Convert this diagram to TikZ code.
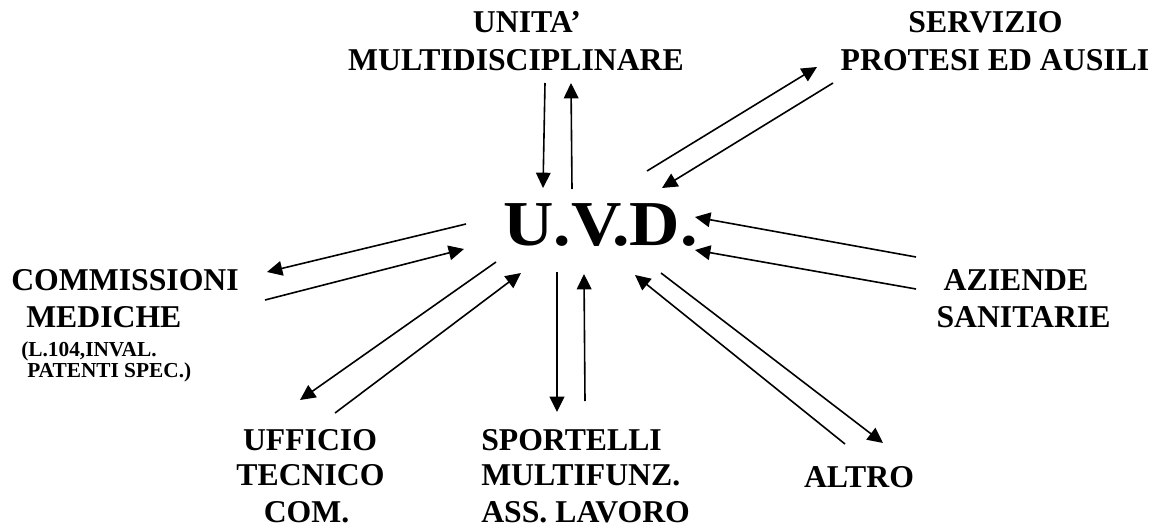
\documentclass[tikz,border=0pt]{standalone}
\usepackage{fontspec}
\setmainfont{Liberation Serif}
\usetikzlibrary{arrows.meta}
\tikzset{
  lbl/.style={font=\bfseries\fontsize{23.8pt}{28pt}\selectfont, inner sep=0pt, anchor=base},
  lbll/.style={lbl, anchor=base west},
  small/.style={font=\bfseries\fontsize{16pt}{14.4pt}\selectfont, inner sep=0pt, align=left, anchor=base west},
  big/.style={font=\bfseries\fontsize{48pt}{56pt}\selectfont, inner sep=0pt, anchor=base west},
  arr/.style={-{Triangle[length=11.5pt,width=11pt]}, line width=1.2pt}
}
\begin{document}
\begin{tikzpicture}[x=0.75pt,y=-0.75pt]
\useasboundingbox (0,0) rectangle (1160,528);
% labels
\node[lbl] (unita1) at (527,33) {UNITA’};
\node[lbl] (unita2) at (516,70) {MULTIDISCIPLINARE};
\node[lbl] (serv1) at (985.5,33) {SERVIZIO};
\node[lbl] (serv2) at (995,70) {PROTESI ED AUSILI};
\node[big] (uvd) at (503,245) {\scalebox{1.09}[1]{U.V.D.}};
\node[lbll] (comm1) at (11,290) {COMMISSIONI};
\node[lbll] (comm2) at (26,327) {MEDICHE};
% the base anchor of a multi-line node lies on its last line
\node[small] (comm3) at (21,377) {(L.104,INVAL.\\\hspace*{4.5pt}PATENTI SPEC.)};
\node[lbl] (az1) at (1016,290) {AZIENDE};
\node[lbl] (az2) at (1023.5,327) {SANITARIE};
\node[lbl] (uff1) at (310,450) {UFFICIO};
\node[lbl] (uff2) at (310.5,485) {TECNICO};
\node[lbl] (uff3) at (306.5,522) {COM.};
\node[lbll] (sp1) at (481,450) {SPORTELLI};
\node[lbll] (sp2) at (481,485) {MULTIFUNZ.};
\node[lbll] (sp3) at (481,522) {ASS. LAVORO};
\node[lbl] (altro) at (859,487) {ALTRO};
% connector end points
\coordinate (a1s) at (545,83);  \coordinate (a1e) at (543,188);
\coordinate (a2s) at (572,189); \coordinate (a2e) at (571,83);
\coordinate (a3s) at (647,171); \coordinate (a3e) at (817,67);
\coordinate (a4s) at (833,83);  \coordinate (a4e) at (662,188);
\coordinate (a5s) at (916,257); \coordinate (a5e) at (695,217);
\coordinate (a6s) at (916,289); \coordinate (a6e) at (695,250);
\coordinate (a7s) at (845,444); \coordinate (a7e) at (635,275);
\coordinate (a8s) at (661,273); \coordinate (a8e) at (883,443);
\coordinate (a9s) at (585,401); \coordinate (a9e) at (584,274);
\coordinate (a10s) at (557,272); \coordinate (a10e) at (557,412);
\coordinate (a11s) at (496,262); \coordinate (a11e) at (300,400);
\coordinate (a12s) at (335,413); \coordinate (a12e) at (521,273);
\coordinate (a13s) at (466,224); \coordinate (a13e) at (267,272);
\coordinate (a14s) at (265,300); \coordinate (a14e) at (464,249);
% connectors
\foreach \i in {1,...,14} {\draw[arr] (a\i s) -- (a\i e);}
\end{tikzpicture}
\end{document}
